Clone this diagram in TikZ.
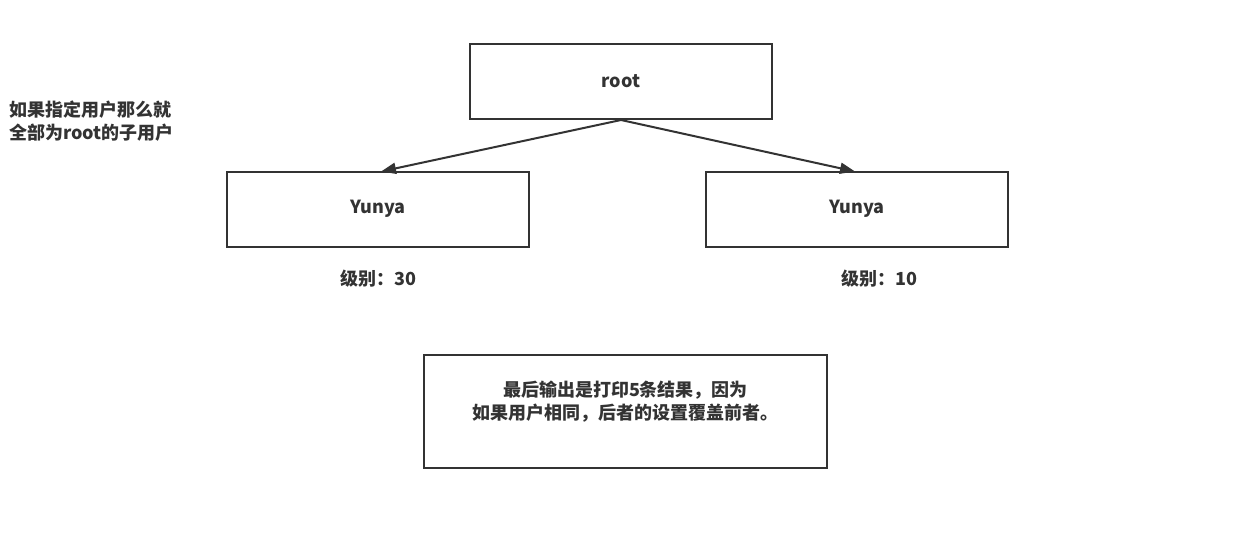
\documentclass[tikz,border=0pt]{standalone}
\usepackage{fontspec}
\setmainfont{Noto Sans CJK SC}
\usepackage{tikz}
\usetikzlibrary{arrows.meta}

\begin{document}
\begin{tikzpicture}[x=1pt, y=-1pt]
  \definecolor{ink}{HTML}{333333}
  \tikzstyle{box} = [draw=ink, line width=2pt, minimum width=302pt, minimum height=75pt, inner sep=0pt, font=\bfseries\fontsize{18}{23}\selectfont, text=ink]
  \tikzstyle{note} = [inner sep=0pt, font=\bfseries\fontsize{18}{23}\selectfont, text=ink]
  \useasboundingbox[fill=white] (0,0) rectangle (1241,533);
  \node[box] (root) at (621, 81.5) {root};
  \node[box] (yl) at (378, 209) {Yunya};
  \node[box] (yr) at (857, 209) {Yunya};
  \node[note] (ll) at (378, 279) {级别：30};
  \node[note] (lr) at (879, 279) {级别：10};
  \node[note, align=left, anchor=west] (hint) at (9, 121) {如果指定用户那么就\\全部为root的子用户};
  \node[box, minimum width=403pt, minimum height=113pt] (res) at (625.5, 411.5) {};
  \node[note, align=center] (restext) at (625.5, 402) {最后输出是打印5条结果，因为\\如果用户相同，后者的设置覆盖前者。};
  \draw[-{Triangle[length=15pt, width=11pt]}, line width=2pt, draw=ink] (root.south) -- ([xshift=3pt, yshift=-1pt]yl.north);
  \draw[-{Triangle[length=15pt, width=11pt]}, line width=2pt, draw=ink] (root.south) -- ([xshift=-2pt, yshift=-1pt]yr.north);
\end{tikzpicture}
\end{document}
